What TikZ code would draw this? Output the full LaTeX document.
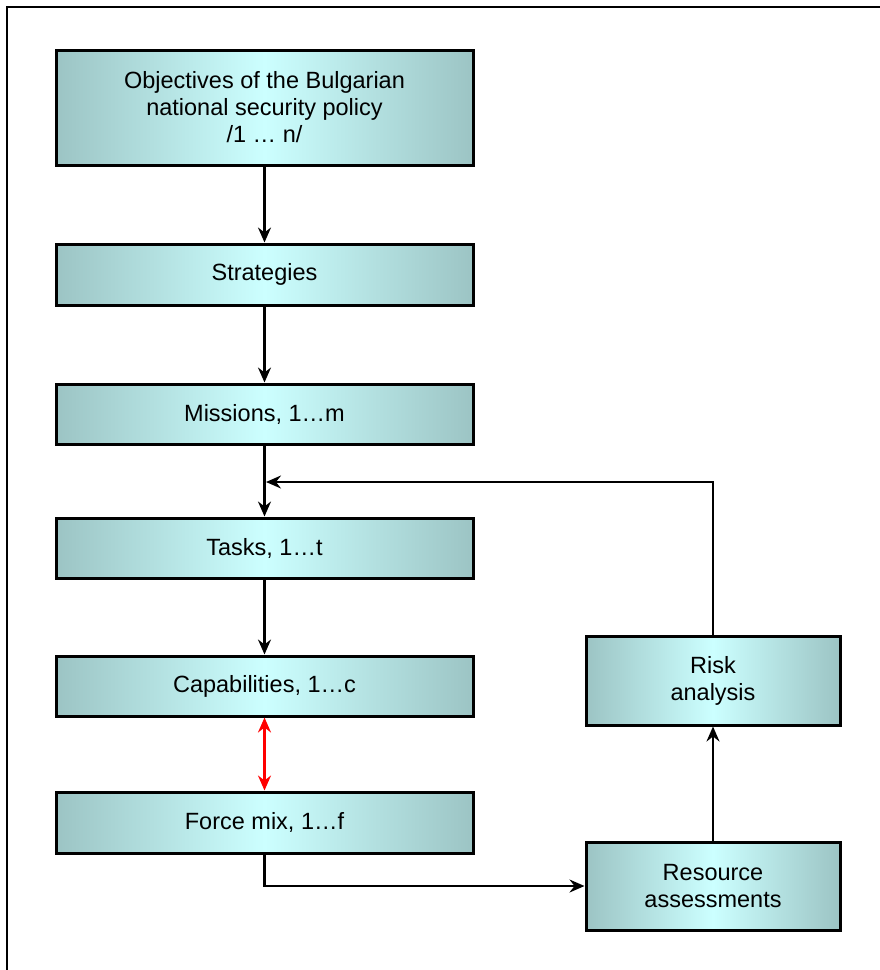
\documentclass[tikz,border=0pt]{standalone}
\usepackage{fontspec}
\setmainfont{Liberation Sans}
\usetikzlibrary{arrows.meta,calc}
\definecolor{tealedge}{HTML}{9CC4C4}
\definecolor{tealmid}{HTML}{CCFFFF}
\begin{document}
\begin{tikzpicture}[x=1pt,y=-1pt,
  flowbox/.style={draw=black, line width=3pt, rectangle,
    left color=tealedge, right color=tealedge, middle color=tealmid,
    align=center, font=\fontsize{23.5}{27}\selectfont, inner sep=0pt},
  flowarrow/.style={draw=black, line width=2.2pt,
    -{Stealth[length=15pt,width=13pt,inset=5pt]}},
  redarrow/.style={draw=red, line width=2.2pt,
    {Stealth[length=15pt,width=13pt,inset=5pt]}-{Stealth[length=15pt,width=13pt,inset=5pt]}}]
  \useasboundingbox (0,0) rectangle (880,970);
  % outer frame
  \draw[line width=2.2pt] (7,972) -- (7,7) -- (882,7);

  % main column
  \node[flowbox, minimum width=417pt, minimum height=115pt] (obj) at (264.5,107.5)
    {Objectives of the Bulgarian\\national security policy\\/1 \dots\ n/};
  \node[flowbox, minimum width=417pt, minimum height=61pt] (str) at (264.5,274.5) {Strategies};
  \node[flowbox, minimum width=417pt, minimum height=60pt] (mis) at (264.5,414) {Missions, 1\dots m};
  \node[flowbox, minimum width=417pt, minimum height=60pt] (tsk) at (264.5,548) {Tasks, 1\dots t};
  \node[flowbox, minimum width=417pt, minimum height=60pt] (cap) at (264.5,686) {Capabilities, 1\dots c};
  \node[flowbox, minimum width=417pt, minimum height=61pt] (frc) at (264.5,822.5) {Force mix, 1\dots f};

  % side column
  \node[flowbox, minimum width=254pt, minimum height=89pt] (risk) at (713,680.5) {Risk\\analysis};
  \node[flowbox, minimum width=254pt, minimum height=88pt] (res) at (713,886) {Resource\\assessments};

  % connectors
  \draw[flowarrow] (obj.south) -- (str.north);
  \draw[flowarrow] (str.south) -- (mis.north);
  \draw[flowarrow] (mis.south) -- (tsk.north);
  \draw[flowarrow] (tsk.south) -- (cap.north);
  \draw[redarrow] (cap.south) -- (frc.north);
  \draw[flowarrow] (frc.south) |- (res.west);
  \draw[flowarrow] (res.north) -- (risk.south);
  \coordinate (fb) at (266,482);
  \draw[flowarrow] (risk.north) |- (fb);
\end{tikzpicture}
\end{document}
